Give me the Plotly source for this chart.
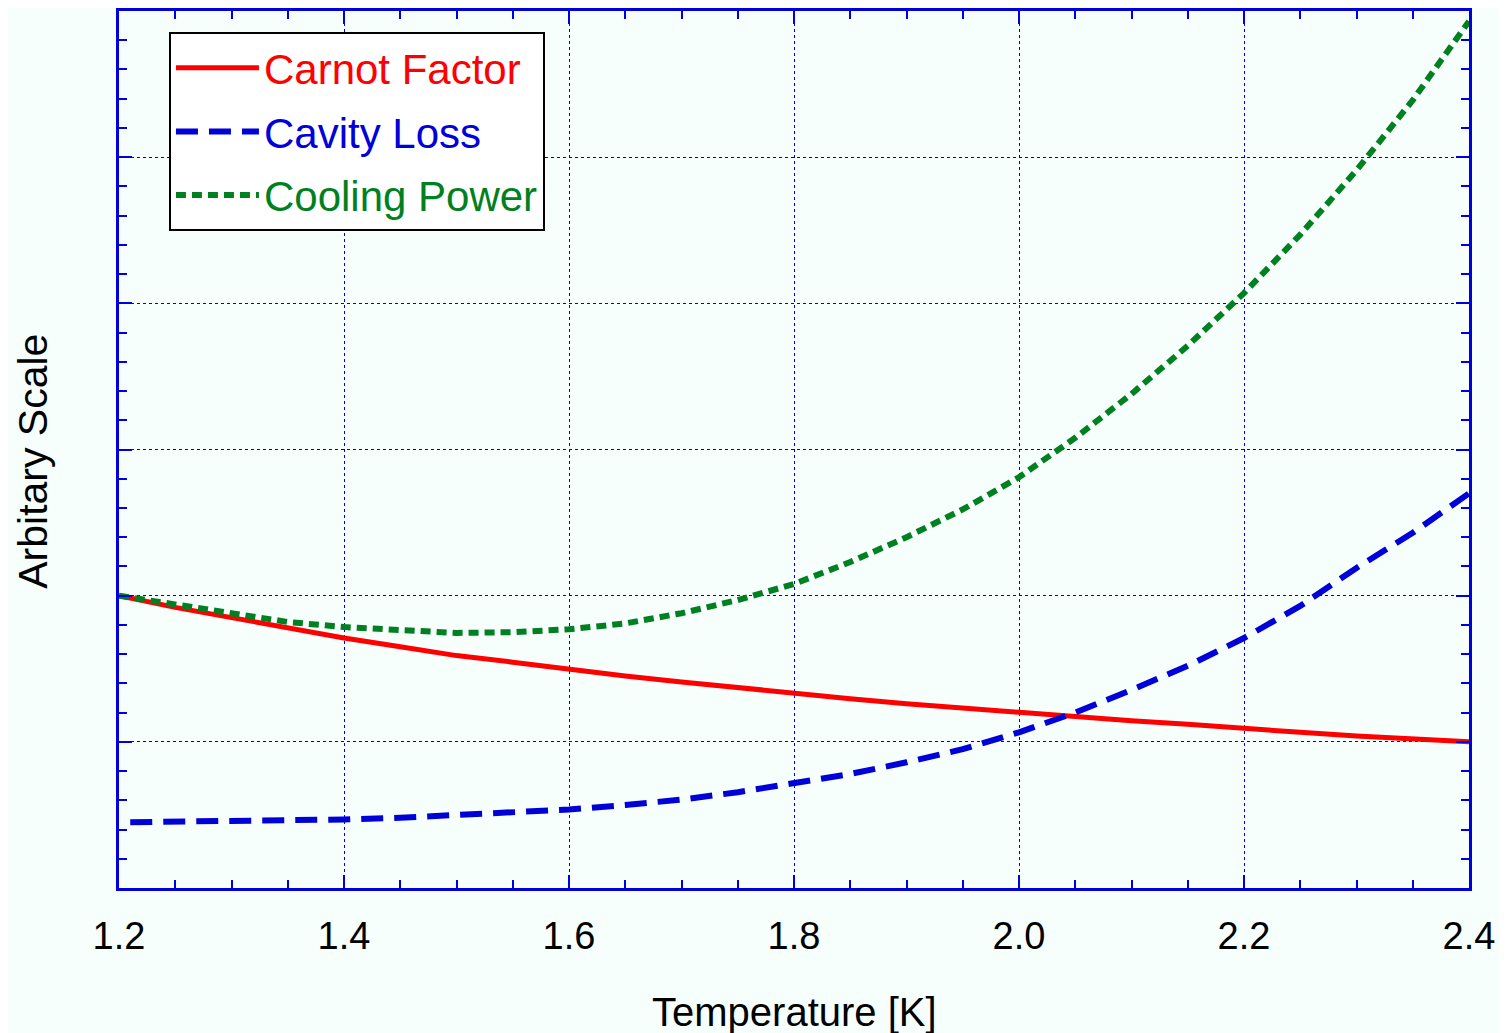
import plotly.graph_objects as go

# ---- data ----
temperature = [1.20, 1.25, 1.30, 1.35, 1.40, 1.45, 1.50, 1.55, 1.60, 1.65, 1.70, 1.75,
               1.80, 1.85, 1.90, 1.95, 2.00, 2.05, 2.10, 2.15, 2.20, 2.25, 2.30, 2.35, 2.40]
carnot_factor = [2.00, 1.92, 1.85, 1.78, 1.71, 1.65, 1.59, 1.545, 1.495, 1.45, 1.41, 1.37,
                 1.33, 1.295, 1.26, 1.23, 1.20, 1.17, 1.145, 1.12, 1.09, 1.065, 1.04, 1.02, 1.00]
cavity_temperature = [1.21, 1.25, 1.30, 1.35, 1.40, 1.45, 1.50, 1.55, 1.60, 1.65, 1.70, 1.75,
                      1.80, 1.85, 1.90, 1.95, 2.00, 2.05, 2.10, 2.15, 2.20, 2.25, 2.30, 2.35, 2.40]
cavity_loss = [0.450, 0.452, 0.455, 0.461, 0.469, 0.481, 0.497, 0.515, 0.537, 0.568, 0.605, 0.655,
               0.714, 0.780, 0.860, 0.950, 1.065, 1.200, 1.355, 1.520, 1.710, 1.930, 2.190, 2.430, 2.700]
cooling_power = [2.00, 1.94, 1.87, 1.82, 1.785, 1.76, 1.745, 1.75, 1.77, 1.81, 1.88, 1.97,
                 2.08, 2.23, 2.40, 2.59, 2.81, 3.08, 3.38, 3.71, 4.07, 4.47, 4.91, 5.39, 5.93]
x_ticks = [1.2, 1.4, 1.6, 1.8, 2.0, 2.2, 2.4]
x_tick_labels = ["1.2", "1.4", "1.6", "1.8", "2.0", "2.2", "2.4"]

RED = "#FF0000"
BLUE = "#0000D8"
GREEN = "#008020"
AXIS_BLUE = "#0000DD"
BG = "#F6FFFC"
FONT = "Liberation Sans, Arial, Helvetica, sans-serif"

fig = go.Figure()
fig.add_trace(go.Scatter(
    x=temperature, y=carnot_factor, mode="lines",
    name=f"<span style='color:{RED}'>Carnot Factor</span>",
    legendgroup="a",
    line=dict(color=RED, width=5),
))
fig.add_trace(go.Scatter(
    x=cavity_temperature, y=cavity_loss, mode="lines",
    name=f"<span style='color:{BLUE}'>Cavity Loss</span>",
    legendgroup="b",
    line=dict(color=BLUE, width=6, dash="22px,11px"),
))
fig.add_trace(go.Scatter(
    x=temperature, y=cooling_power, mode="lines",
    name=f"<span style='color:{GREEN}'>Cooling Power</span>",
    legendgroup="c",
    line=dict(color=GREEN, width=6, dash="10px,6px"),
))

axis_common = dict(
    showline=True, linecolor=AXIS_BLUE, linewidth=3, mirror="ticks",
    ticks="inside", tickcolor=AXIS_BLUE, tickwidth=2, ticklen=13,
    showgrid=True, gridcolor=AXIS_BLUE, gridwidth=1, griddash="dot",
    zeroline=False,
)

fig.update_xaxes(
    range=[1.2, 2.4], tickvals=x_ticks, ticktext=x_tick_labels,
    tickfont=dict(family=FONT, size=38, color="black"),
    ticklabelstandoff=12,
    minor=dict(dtick=0.05, ticks="inside", ticklen=8, tickwidth=2, tickcolor=AXIS_BLUE, showgrid=False),
    **axis_common,
)
fig.update_yaxes(
    range=[0, 6], dtick=1, showticklabels=False,
    minor=dict(dtick=0.2, ticks="inside", ticklen=8, tickwidth=2, tickcolor=AXIS_BLUE, showgrid=False),
    **axis_common,
)

fig.add_annotation(
    text="Temperature [K]", xref="paper", yref="paper", x=0.5, y=-0.141,
    xanchor="center", yanchor="middle", showarrow=False,
    font=dict(family=FONT, size=40, color="black"),
)
fig.add_annotation(
    text="Arbitary Scale", xref="paper", yref="paper", x=-0.0637, y=0.486,
    xanchor="center", yanchor="middle", showarrow=False, textangle=-90,
    font=dict(family=FONT, size=41, color="black"),
)

fig.update_layout(
    width=1499, height=1025,
    margin=dict(l=111, r=38, t=0, b=145),
    paper_bgcolor=BG, plot_bgcolor=BG,
    font=dict(family=FONT, size=38, color="black"),
    showlegend=True,
    legend=dict(
        x=0.037, y=0.976, xanchor="left", yanchor="top",
        bgcolor="white", bordercolor="black", borderwidth=2,
        font=dict(family=FONT, size=42),
        traceorder="grouped", tracegroupgap=6,
        itemwidth=83,
    ),
)

fig.write_html("out.html")
